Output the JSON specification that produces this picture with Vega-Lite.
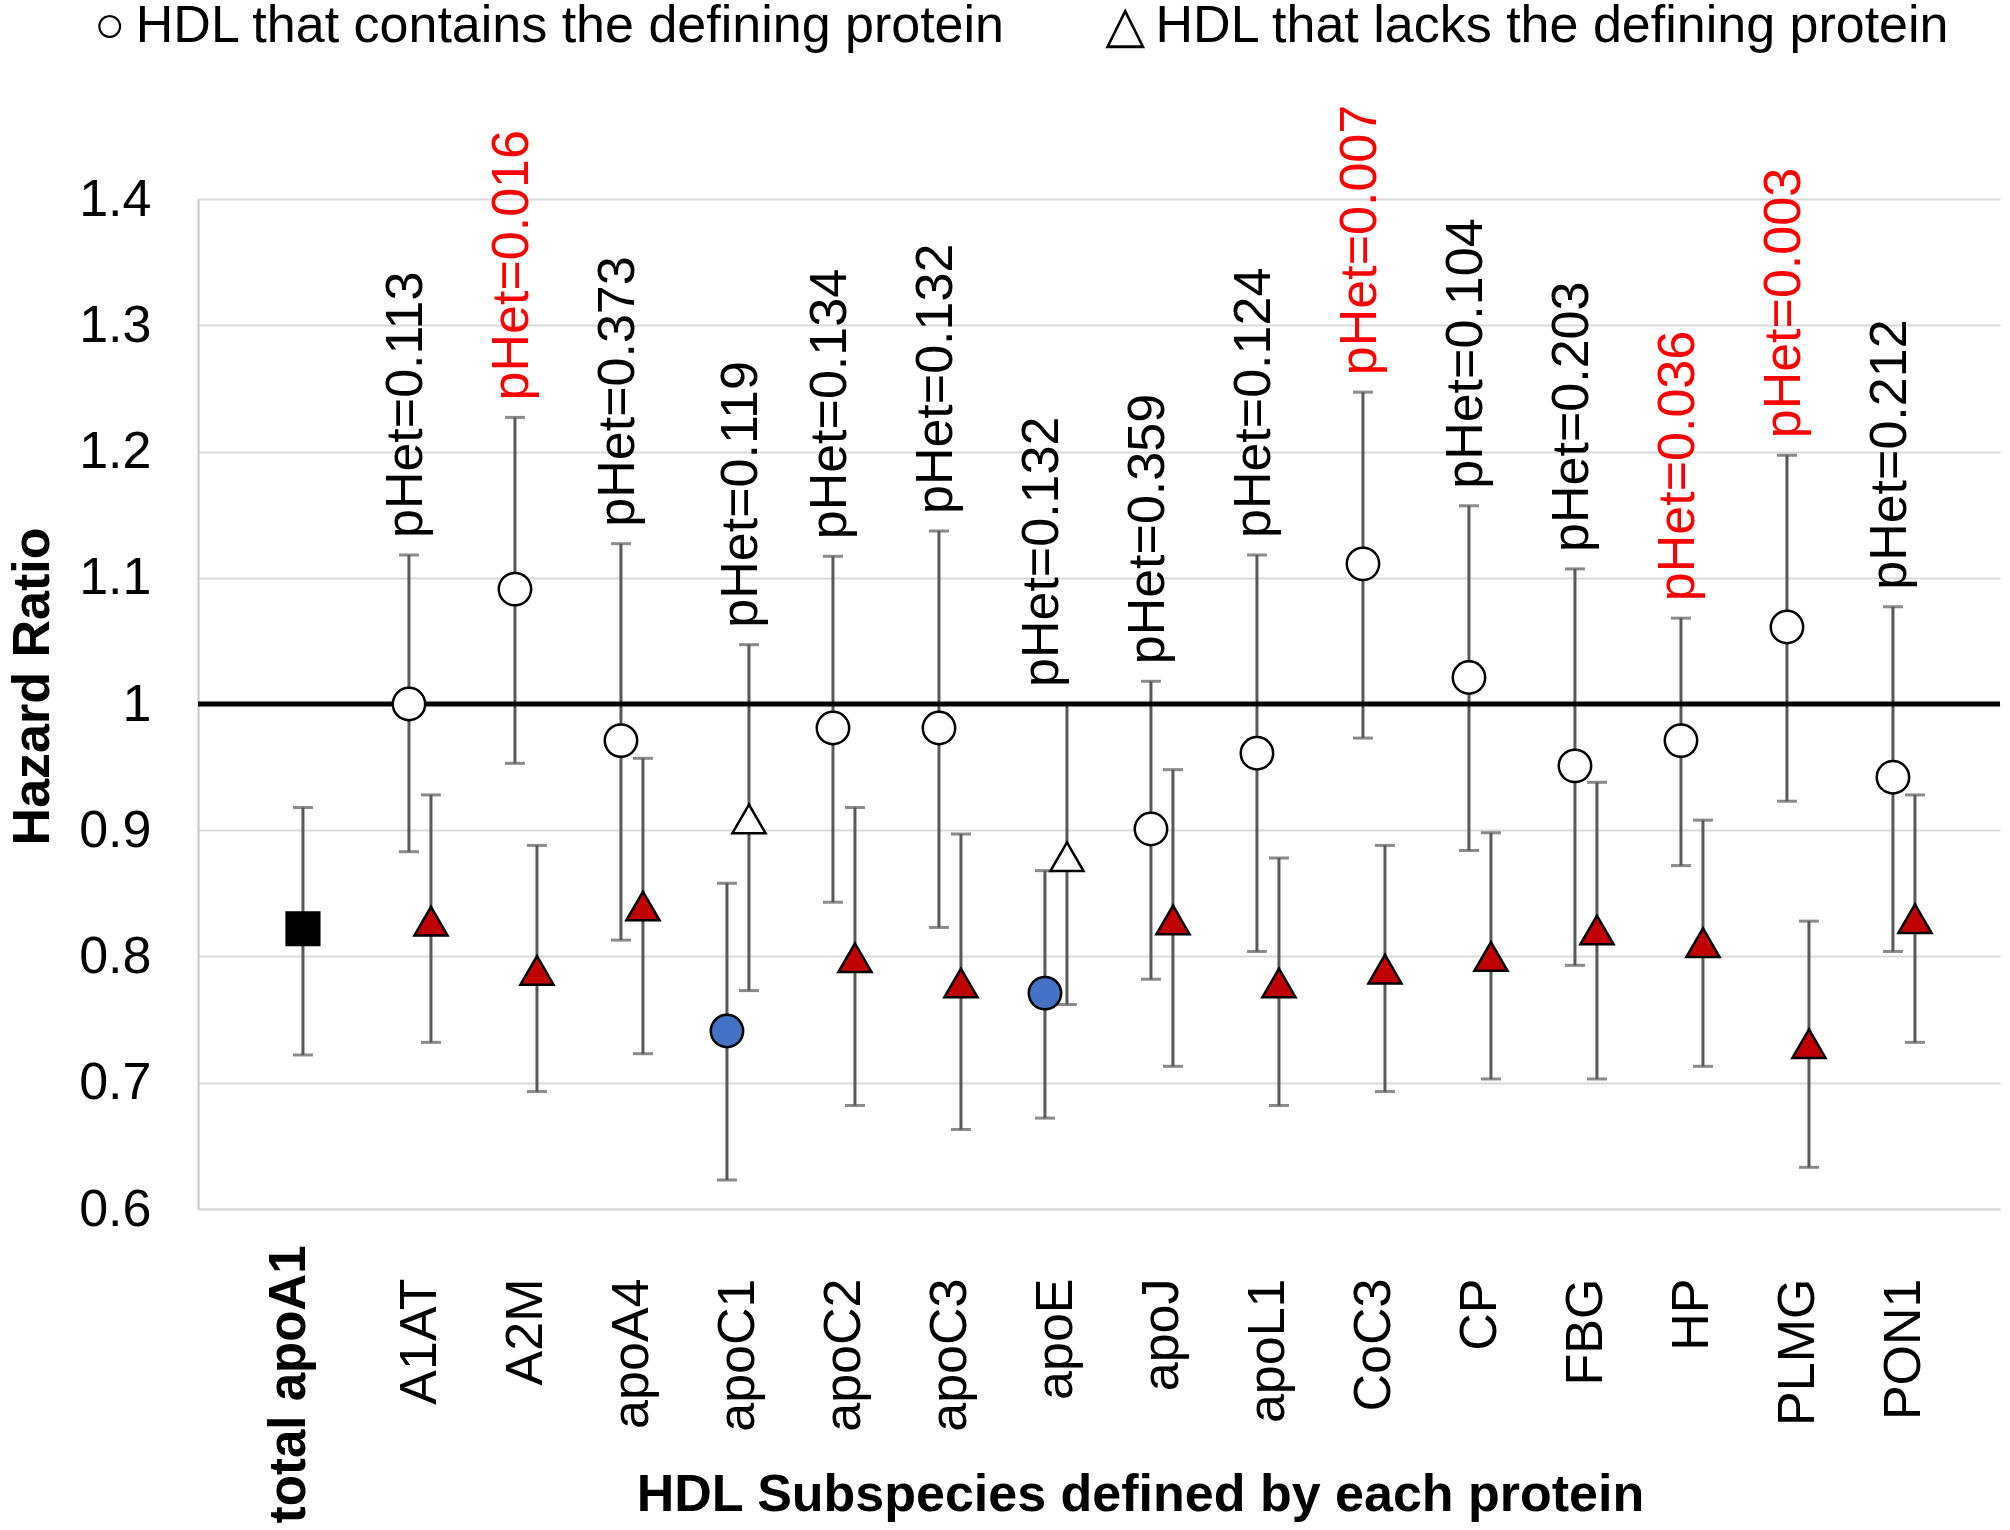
{
  "$schema": "https://vega.github.io/schema/vega-lite/v6.json",
  "width": 1802,
  "height": 1010,
  "autosize": {"type": "none"},
  "padding": {"left": 198, "top": 199, "right": 10, "bottom": 321},
  "config": {"font": "Liberation Sans", "view": {"stroke": null}},
  "title": {
    "text": "○\u2009HDL that contains the defining protein\u00a0\u00a0\u00a0\u00a0\u00a0\u00a0\u00a0△\u2009HDL that lacks the defining protein",
    "orient": "top", "anchor": "start", "frame": "group",
    "baseline": "alphabetic", "offset": 11, "dx": -104,
    "font": "Liberation Sans, DejaVu Sans", "fontSize": 52, "fontWeight": "normal", "color": "black", "limit": 2000
  },
  "data": {
    "values": [
      {"protein": "total apoA1", "series": "total", "hr": 0.822, "lo": 0.722, "hi": 0.918},
      {"protein": "A1AT", "series": "contains", "hr": 1.0, "lo": 0.883, "hi": 1.118, "pHet": 0.113, "label": "pHet=0.113"},
      {"protein": "A1AT", "series": "lacks", "hr": 0.828, "lo": 0.732, "hi": 0.928},
      {"protein": "A2M", "series": "contains", "hr": 1.091, "lo": 0.953, "hi": 1.227, "pHet": 0.016, "label": "pHet=0.016"},
      {"protein": "A2M", "series": "lacks", "hr": 0.789, "lo": 0.693, "hi": 0.888},
      {"protein": "apoA4", "series": "contains", "hr": 0.971, "lo": 0.813, "hi": 1.127, "pHet": 0.373, "label": "pHet=0.373"},
      {"protein": "apoA4", "series": "lacks", "hr": 0.84, "lo": 0.723, "hi": 0.957},
      {"protein": "apoC1", "series": "contains", "hr": 0.741, "lo": 0.623, "hi": 0.858},
      {"protein": "apoC1", "series": "lacks", "hr": 0.909, "lo": 0.773, "hi": 1.047, "pHet": 0.119, "label": "pHet=0.119"},
      {"protein": "apoC2", "series": "contains", "hr": 0.981, "lo": 0.843, "hi": 1.117, "pHet": 0.134, "label": "pHet=0.134"},
      {"protein": "apoC2", "series": "lacks", "hr": 0.799, "lo": 0.682, "hi": 0.918},
      {"protein": "apoC3", "series": "contains", "hr": 0.981, "lo": 0.823, "hi": 1.137, "pHet": 0.132, "label": "pHet=0.132"},
      {"protein": "apoC3", "series": "lacks", "hr": 0.779, "lo": 0.663, "hi": 0.897},
      {"protein": "apoE", "series": "contains", "hr": 0.771, "lo": 0.672, "hi": 0.868, "pHet": 0.132, "label": "pHet=0.132"},
      {"protein": "apoE", "series": "lacks", "hr": 0.879, "lo": 0.762, "hi": 1.0},
      {"protein": "apoJ", "series": "contains", "hr": 0.901, "lo": 0.782, "hi": 1.018, "pHet": 0.359, "label": "pHet=0.359"},
      {"protein": "apoJ", "series": "lacks", "hr": 0.829, "lo": 0.713, "hi": 0.948},
      {"protein": "apoL1", "series": "contains", "hr": 0.961, "lo": 0.804, "hi": 1.118, "pHet": 0.124, "label": "pHet=0.124"},
      {"protein": "apoL1", "series": "lacks", "hr": 0.779, "lo": 0.682, "hi": 0.878},
      {"protein": "CoC3", "series": "contains", "hr": 1.111, "lo": 0.973, "hi": 1.247, "pHet": 0.007, "label": "pHet=0.007"},
      {"protein": "CoC3", "series": "lacks", "hr": 0.79, "lo": 0.693, "hi": 0.888},
      {"protein": "CP", "series": "contains", "hr": 1.021, "lo": 0.884, "hi": 1.157, "pHet": 0.104, "label": "pHet=0.104"},
      {"protein": "CP", "series": "lacks", "hr": 0.8, "lo": 0.703, "hi": 0.898},
      {"protein": "FBG", "series": "contains", "hr": 0.951, "lo": 0.793, "hi": 1.107, "pHet": 0.203, "label": "pHet=0.203"},
      {"protein": "FBG", "series": "lacks", "hr": 0.821, "lo": 0.703, "hi": 0.938},
      {"protein": "HP", "series": "contains", "hr": 0.971, "lo": 0.872, "hi": 1.068, "pHet": 0.036, "label": "pHet=0.036"},
      {"protein": "HP", "series": "lacks", "hr": 0.811, "lo": 0.713, "hi": 0.908},
      {"protein": "PLMG", "series": "contains", "hr": 1.061, "lo": 0.923, "hi": 1.197, "pHet": 0.003, "label": "pHet=0.003"},
      {"protein": "PLMG", "series": "lacks", "hr": 0.731, "lo": 0.633, "hi": 0.828},
      {"protein": "PON1", "series": "contains", "hr": 0.942, "lo": 0.804, "hi": 1.077, "pHet": 0.212, "label": "pHet=0.212"},
      {"protein": "PON1", "series": "lacks", "hr": 0.83, "lo": 0.732, "hi": 0.928}
    ]
  },
  "layer": [
    {
      "transform": [{"filter": "datum.series !== 'lacks'"}],
      "mark": {"type": "rule", "xOffset": -11, "color": "#595959", "strokeWidth": 3},
      "encoding": {
        "x": {
          "field": "protein", "type": "nominal",
          "scale": {"type": "band", "domain": ["total apoA1", "A1AT", "A2M", "apoA4", "apoC1", "apoC2", "apoC3", "apoE", "apoJ", "apoL1", "CoC3", "CP", "FBG", "HP", "PLMG", "PON1"], "paddingInner": 0, "paddingOuter": 0.5, "align": 0.594},
          "axis": {
            "title": "HDL Subspecies defined by each protein",
            "titleFontSize": 52, "titleFontWeight": "bold", "titleColor": "black",
            "titleX": 942, "titleY": 301, "titleAlign": "center", "titleBaseline": "alphabetic",
            "labelAngle": 270, "labelAlign": "right", "labelBaseline": "middle",
            "labelFontSize": {"condition": {"test": "datum.value === 'total apoA1'", "value": 51}, "value": 52},
            "labelColor": "black", "labelLimit": 500, "labelOverlap": false,
            "labelFontWeight": {"condition": {"test": "datum.value === 'total apoA1'", "value": "bold"}, "value": "normal"},
            "labelPadding": {"condition": {"test": "datum.value === 'total apoA1'", "value": 36}, "value": 69},
            "labelOffset": {"condition": {"test": "datum.value === 'total apoA1'", "value": -24}, "value": 0},
            "ticks": false, "tickSize": 0,
            "domain": true, "domainColor": "#D9D9D9", "domainWidth": 2, "grid": false
          }
        },
        "y": {
          "field": "lo", "type": "quantitative",
          "scale": {"domain": [0.6, 1.4], "nice": false, "zero": false},
          "axis": {
            "title": "Hazard Ratio",
            "titleFontSize": 52, "titleFontWeight": "bold", "titleColor": "black",
            "titleAngle": 270, "titleX": -166, "titleY": 487, "titleAlign": "center", "titleBaseline": "middle",
            "values": [0.6, 0.7, 0.8, 0.9, 1.0, 1.1, 1.2, 1.3, 1.4], "format": "~g",
            "labelFontSize": 52, "labelColor": "black", "labelPadding": 47,
            "ticks": false, "tickSize": 0,
            "domain": true, "domainColor": "#C8C8C8", "domainWidth": 2,
            "grid": true, "gridColor": "#D9D9D9", "gridWidth": 2
          }
        },
        "y2": {"field": "hi"}
      }
    },
    {
      "transform": [{"filter": "datum.series === 'lacks'"}],
      "mark": {"type": "rule", "xOffset": 11, "color": "#595959", "strokeWidth": 3},
      "encoding": {
        "x": {"field": "protein", "type": "nominal"},
        "y": {"field": "lo", "type": "quantitative"},
        "y2": {"field": "hi"}
      }
    },
    {
      "transform": [{"filter": "datum.series !== 'lacks'"}, {"fold": ["lo", "hi"], "as": ["end", "val"]}],
      "mark": {"type": "tick", "xOffset": -11, "color": "#595959", "thickness": 3, "size": 20},
      "encoding": {
        "x": {"field": "protein", "type": "nominal"},
        "y": {"field": "val", "type": "quantitative"}
      }
    },
    {
      "transform": [{"filter": "datum.series === 'lacks'"}, {"fold": ["lo", "hi"], "as": ["end", "val"]}],
      "mark": {"type": "tick", "xOffset": 11, "color": "#595959", "thickness": 3, "size": 20},
      "encoding": {
        "x": {"field": "protein", "type": "nominal"},
        "y": {"field": "val", "type": "quantitative"}
      }
    },
    {
      "data": {"values": [{"ref": 1}]},
      "mark": {"type": "rule", "color": "black", "strokeWidth": 5},
      "encoding": {"y": {"field": "ref", "type": "quantitative"}}
    },
    {
      "transform": [{"filter": "datum.series === 'contains' && datum.hi >= 1"}],
      "mark": {"type": "point", "filled": true, "fill": "white", "stroke": "black", "strokeWidth": 2.5, "size": 1050, "opacity": 1, "xOffset": -11},
      "encoding": {
        "x": {"field": "protein", "type": "nominal"},
        "y": {"field": "hr", "type": "quantitative"},
        "shape": {
          "field": "series", "type": "nominal",
          "scale": {"domain": ["contains", "lacks", "total"], "range": ["circle", "triangle-up", "square"]},
          "legend": null
        }
      }
    },
    {
      "transform": [{"filter": "datum.series === 'contains' && datum.hi < 1"}],
      "mark": {"type": "point", "filled": true, "fill": "#4472C4", "stroke": "black", "strokeWidth": 2.5, "size": 1050, "opacity": 1, "xOffset": -11},
      "encoding": {
        "x": {"field": "protein", "type": "nominal"},
        "y": {"field": "hr", "type": "quantitative"},
        "shape": {"field": "series", "type": "nominal", "legend": null}
      }
    },
    {
      "transform": [{"filter": "datum.series === 'total'"}],
      "mark": {"type": "point", "filled": true, "fill": "black", "stroke": "black", "strokeWidth": 2, "size": 1100, "opacity": 1, "xOffset": -11},
      "encoding": {
        "x": {"field": "protein", "type": "nominal"},
        "y": {"field": "hr", "type": "quantitative"},
        "shape": {"field": "series", "type": "nominal", "legend": null}
      }
    },
    {
      "transform": [{"filter": "datum.series === 'lacks' && datum.hi < 1"}],
      "mark": {"type": "point", "filled": true, "fill": "#C00000", "stroke": "black", "strokeWidth": 2.5, "size": 1100, "opacity": 1, "xOffset": 11},
      "encoding": {
        "x": {"field": "protein", "type": "nominal"},
        "y": {"field": "hr", "type": "quantitative"},
        "shape": {"field": "series", "type": "nominal", "legend": null}
      }
    },
    {
      "transform": [{"filter": "datum.series === 'lacks' && datum.hi >= 1"}],
      "mark": {"type": "point", "filled": true, "fill": "white", "stroke": "black", "strokeWidth": 2.5, "size": 1100, "opacity": 1, "xOffset": 11},
      "encoding": {
        "x": {"field": "protein", "type": "nominal"},
        "y": {"field": "hr", "type": "quantitative"},
        "shape": {"field": "series", "type": "nominal", "legend": null}
      }
    },
    {
      "transform": [
        {"joinaggregate": [{"op": "max", "field": "hi", "as": "topHi"}], "groupby": ["protein"]},
        {"filter": "isValid(datum.label) && datum.series === 'contains'"}
      ],
      "mark": {"type": "text", "angle": 270, "align": "left", "baseline": "middle", "fontSize": 52, "dx": 17, "xOffset": -14},
      "encoding": {
        "x": {"field": "protein", "type": "nominal"},
        "y": {"field": "topHi", "type": "quantitative"},
        "text": {"field": "label", "type": "nominal"},
        "color": {"condition": {"test": "datum.pHet < 0.05", "value": "#FF0000"}, "value": "black"}
      }
    },
    {
      "transform": [
        {"joinaggregate": [{"op": "max", "field": "hi", "as": "topHi"}], "groupby": ["protein"]},
        {"filter": "isValid(datum.label) && datum.series === 'lacks'"}
      ],
      "mark": {"type": "text", "angle": 270, "align": "left", "baseline": "middle", "fontSize": 52, "dx": 17, "xOffset": 3},
      "encoding": {
        "x": {"field": "protein", "type": "nominal"},
        "y": {"field": "topHi", "type": "quantitative"},
        "text": {"field": "label", "type": "nominal"},
        "color": {"condition": {"test": "datum.pHet < 0.05", "value": "#FF0000"}, "value": "black"}
      }
    }
  ]
}
